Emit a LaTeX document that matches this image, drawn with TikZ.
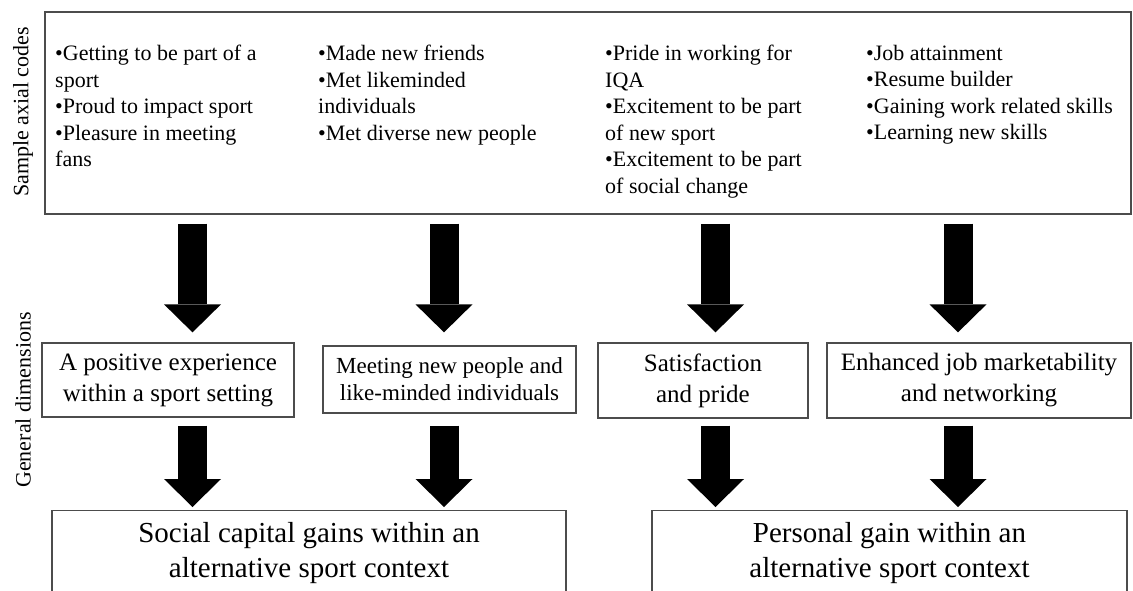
\documentclass[tikz,border=0pt]{standalone}
\usepackage{fontspec}
\setmainfont{Liberation Serif}
\usetikzlibrary{arrows.meta}

\begin{document}
\begin{tikzpicture}[x=1pt, y=-1pt,
  box/.style={draw=black!70, line width=1.3pt, align=center, inner sep=0pt},
  codes/.style={anchor=north west, align=left, inner sep=0pt, font=\fontsize{22}{26.5}\selectfont},
  side/.style={rotate=90, inner sep=0pt, font=\fontsize{22}{26}\selectfont},
  fat/.style={line width=29pt, -{Triangle[width=57pt, length=28pt, line width=0pt]}}]
\useasboundingbox (0,0) rectangle (1133,590);
% sample axial codes
\draw (588,113) node[box, minimum width=1086pt, minimum height=202pt] (axial) {};
\draw (55,45) node[codes] (sport) {•Getting to be part of a\\sport\\•Proud to impact sport\\•Pleasure in meeting\\fans};
\draw (318,45) node[codes] (friends) {•Made new friends\\•Met likeminded\\individuals\\•Met diverse new people};
\draw (605,45) node[codes] (pride) {•Pride in working for\\IQA\\•Excitement to be part\\of new sport\\•Excitement to be part\\of social change};
\draw (866,45) node[codes] (job) {•Job attainment\\•Resume builder\\•Gaining work related skills\\•Learning new skills};
\draw (23,112) node[side] (axiallabel) {Sample axial codes};
% general dimensions
\draw (168,380) node[box, minimum width=252pt, minimum height=74pt, font=\fontsize{25}{31}\selectfont] (positive) {A positive experience\\within a sport setting};
\draw (449.5,379.5) node[box, minimum width=253pt, minimum height=67pt, font=\fontsize{23}{27}\selectfont] (meeting) {Meeting new people and\\like-minded individuals};
\draw (703,380.5) node[box, minimum width=210pt, minimum height=75pt, font=\fontsize{25}{31}\selectfont] (satisfaction) {Satisfaction\\and pride};
\draw (979,380.5) node[box, minimum width=304pt, minimum height=75pt, font=\fontsize{25}{31}\selectfont] (market) {Enhanced job marketability\\and networking};
\draw (23,400) node[side] (dimlabel) {General dimensions};
% gains
\draw (309,510) node[box, anchor=north, minimum width=514pt, inner ysep=12pt, font=\fontsize{29}{35}\selectfont] (social) {Social capital gains within an\\alternative sport context};
\draw (889.5,510) node[box, anchor=north, minimum width=475pt, inner ysep=12pt, font=\fontsize{29}{35}\selectfont] (personal) {Personal gain within an\\alternative sport context};
\coordinate (c1) at (192.5,0);
\coordinate (c2) at (444,0);
\coordinate (c3) at (715.5,0);
\coordinate (c4) at (958,0);
\draw [fat, shorten <=9pt, shorten >=10pt] (axial.south -| c1) to (positive.north -| c1);
\draw [fat, shorten <=9pt, shorten >=13pt] (axial.south -| c2) to (meeting.north -| c2);
\draw [fat, shorten <=9pt, shorten >=10pt] (axial.south -| c3) to (satisfaction.north -| c3);
\draw [fat, shorten <=9pt, shorten >=10pt] (axial.south -| c4) to (market.north -| c4);
\draw [fat, shorten <=8pt, shorten >=3pt] (positive.south -| c1) to (social.north -| c1);
\draw [fat, shorten <=12pt, shorten >=3pt] (meeting.south -| c2) to (social.north -| c2);
\draw [fat, shorten <=7pt, shorten >=3pt] (satisfaction.south -| c3) to (personal.north -| c3);
\draw [fat, shorten <=7pt, shorten >=3pt] (market.south -| c4) to (personal.north -| c4);
\end{tikzpicture}
\end{document}
